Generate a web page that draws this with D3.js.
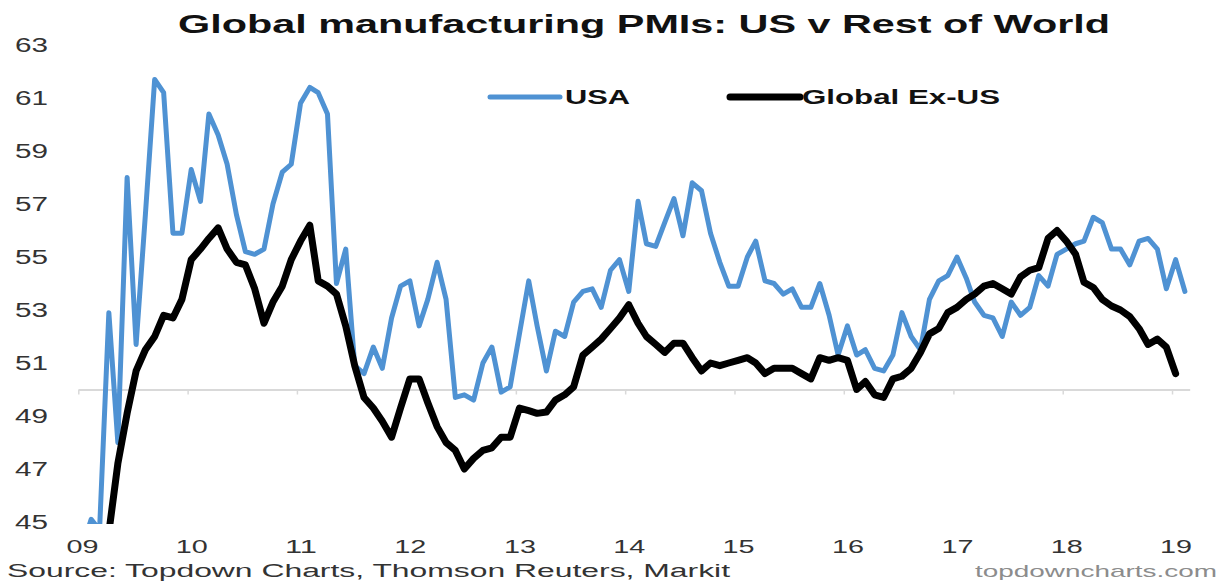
<!DOCTYPE html>
<html>
<head>
<meta charset="utf-8">
<script src="https://cdn.jsdelivr.net/npm/d3@7"></script>
<style>
  body { margin: 0; background: #fff; }
  svg { display: block; }
</style>
</head>
<body>
<div id="chart"></div>
<script>
// monthly readings, Jan 2009 onwards
const usaPmi = [
  44.0, 45.1, 44.7, 52.9, 48.0, 58.0, 51.7, 56.6, 61.7, 61.2, 55.9, 55.9, // 2009
  58.3, 57.1, 60.4, 59.6, 58.5, 56.6, 55.2, 55.1, 55.3, 57.0, 58.2, 58.5, // 2010
  60.8, 61.4, 61.2, 60.4, 54.0, 55.3, 50.9, 50.6, 51.6, 50.8, 52.7, 53.9, // 2011
  54.1, 52.4, 53.4, 54.8, 53.4, 49.7, 49.8, 49.6, 51.0, 51.6, 49.9, 50.1, // 2012
  52.1, 54.1, 52.4, 50.7, 52.2, 52.0, 53.3, 53.7, 53.8, 53.1, 54.5, 54.9, // 2013
  53.7, 57.1, 55.5, 55.4, 56.3, 57.2, 55.8, 57.8, 57.5, 55.9, 54.8, 53.9, // 2014
  53.9, 55.0, 55.6, 54.1, 54.0, 53.6, 53.8, 53.1, 53.1, 54.0, 52.8, 51.3, // 2015
  52.4, 51.3, 51.5, 50.8, 50.7, 51.3, 52.9, 52.0, 51.5, 53.4, 54.1, 54.3, // 2016
  55.0, 54.2, 53.3, 52.8, 52.7, 52.0, 53.3, 52.8, 53.1, 54.3, 53.9, 55.1, // 2017
  55.3, 55.5, 55.6, 56.5, 56.3, 55.3, 55.3, 54.7, 55.6, 55.7, 55.3, 53.8, // 2018
  54.9, 53.7                                                              // 2019
];

const globalExUsPmi = [
  36.5, 38.5, 41.5, 44.6, 47.2, 49.1, 50.7, 51.5, 52.0, 52.8, 52.7, 53.4, // 2009
  54.9, 55.3, 55.7, 56.1, 55.3, 54.8, 54.7, 53.8, 52.5, 53.3, 53.9, 54.9, // 2010
  55.6, 56.2, 54.1, 53.9, 53.6, 52.4, 50.9, 49.7, 49.3, 48.8, 48.2, 49.3, // 2011
  50.4, 50.4, 49.5, 48.6, 48.0, 47.7, 47.0, 47.4, 47.7, 47.8, 48.2, 48.2, // 2012
  49.3, 49.2, 49.1, 49.15, 49.6, 49.8, 50.1, 51.3, 51.6, 51.9, 52.3, 52.7, // 2013
  53.2, 52.5, 52.0, 51.7, 51.4, 51.75, 51.75, 51.2, 50.7, 51.0, 50.9, 51.0, // 2014
  51.1, 51.2, 51.0, 50.6, 50.8, 50.8, 50.8, 50.6, 50.4, 51.2, 51.1, 51.2, // 2015
  51.1, 50.0, 50.3, 49.8, 49.7, 50.4, 50.5, 50.8, 51.4, 52.1, 52.3, 52.9, // 2016
  53.1, 53.4, 53.6, 53.9, 54.0, 53.8, 53.6, 54.25, 54.5, 54.6, 55.7, 56.0, // 2017
  55.6, 55.1, 54.05, 53.85, 53.4, 53.15, 53.0, 52.75, 52.3, 51.7, 51.9, 51.6, // 2018
  50.6                                                                    // 2019
];

const yearLabels = ["09", "10", "11", "12", "13", "14", "15", "16", "17", "18", "19"];
const yTicks = [45, 47, 49, 51, 53, 55, 57, 59, 61, 63];
const seriesNames = ["USA", "Global Ex-US"];

const W = 1226, H = 581;
const blue = "#4f92d3";
const font = "'Liberation Sans', Arial, sans-serif";

const svg = d3.select("#chart").append("svg")
  .attr("width", W)
  .attr("height", H);

const x = d3.scaleUtc()
  .domain([new Date(Date.UTC(2009, 0, 1)), new Date(Date.UTC(2019, 2, 1))])
  .range([78.3, 1189.7]);

const y = d3.scaleLinear()
  .domain([45, 63])
  .range([522, 45]);

// point sits ~12 days into its month
const monthDate = i => new Date(Date.UTC(2009, i, 13));

const usaData = usaPmi.map((v, i) => ({ date: monthDate(i), value: v }));
const exUsData = globalExUsPmi.map((v, i) => ({ date: monthDate(i), value: v }));

// title
svg.append("text")
  .attr("x", 178)
  .attr("y", 33)
  .attr("textLength", 932)
  .attr("lengthAdjust", "spacingAndGlyphs")
  .style("font-family", font)
  .style("font-size", "25px")
  .style("font-weight", "bold")
  .attr("fill", "#111")
  .text("Global manufacturing PMIs: US v Rest of World");

// 50 line with year ticks
const xAxis = d3.axisBottom(x)
  .ticks(d3.utcYear.every(1))
  .tickSize(5)
  .tickSizeOuter(0)
  .tickFormat("");

const gx = svg.append("g")
  .attr("transform", "translate(0," + y(50) + ")")
  .call(xAxis);
gx.select(".domain").attr("stroke", "#d9d9d9").attr("stroke-width", 2);
gx.selectAll(".tick line").attr("stroke", "#d9d9d9").attr("stroke-width", 1.5);

// year labels, low position
const labelAxis = d3.axisBottom(x)
  .tickValues(yearLabels.map((d, k) => monthDate(12 * k)))
  .tickSize(0)
  .tickPadding(0)
  .tickFormat((d, k) => yearLabels[k]);

const gl = svg.append("g")
  .attr("transform", "translate(0,539.5)")
  .call(labelAxis);
gl.select(".domain").remove();
gl.selectAll("text")
  .attr("textLength", 32)
  .attr("lengthAdjust", "spacingAndGlyphs")
  .attr("fill", "#333")
  .style("font-family", font)
  .style("font-size", "19px");

// y labels
const yAxis = d3.axisLeft(y)
  .tickValues(yTicks)
  .tickSize(0)
  .tickPadding(0);

const gy = svg.append("g")
  .attr("transform", "translate(48,0)")
  .call(yAxis);
gy.select(".domain").remove();
gy.selectAll("text")
  .attr("textLength", 33)
  .attr("lengthAdjust", "spacingAndGlyphs")
  .attr("fill", "#333")
  .style("font-family", font)
  .style("font-size", "20px");

// plot clip
svg.append("clipPath")
  .attr("id", "plotClip")
  .append("rect")
  .attr("x", 60)
  .attr("y", 38)
  .attr("width", 1150)
  .attr("height", 486);

const line = d3.line()
  .x(d => x(d.date))
  .y(d => y(d.value));

const plot = svg.append("g").attr("clip-path", "url(#plotClip)");

plot.append("path")
  .datum(usaData)
  .attr("fill", "none")
  .attr("stroke", blue)
  .attr("stroke-width", 5)
  .attr("stroke-linejoin", "round")
  .attr("stroke-linecap", "round")
  .attr("d", line);

plot.append("path")
  .datum(exUsData)
  .attr("fill", "none")
  .attr("stroke", "#000")
  .attr("stroke-width", 7)
  .attr("stroke-linejoin", "round")
  .attr("stroke-linecap", "round")
  .attr("d", line);

// legend
const legend = svg.append("g");
legend.append("line")
  .attr("x1", 490).attr("x2", 560)
  .attr("y1", 97).attr("y2", 97)
  .attr("stroke", blue)
  .attr("stroke-width", 5)
  .attr("stroke-linecap", "round");
legend.append("text")
  .attr("x", 565)
  .attr("y", 104)
  .attr("textLength", 65)
  .attr("lengthAdjust", "spacingAndGlyphs")
  .style("font-family", font)
  .style("font-size", "21px")
  .style("font-weight", "bold")
  .attr("fill", "#111")
  .text(seriesNames[0]);

legend.append("line")
  .attr("x1", 730).attr("x2", 800)
  .attr("y1", 97).attr("y2", 97)
  .attr("stroke", "#000")
  .attr("stroke-width", 7)
  .attr("stroke-linecap", "round");
legend.append("text")
  .attr("x", 802)
  .attr("y", 104)
  .attr("textLength", 198)
  .attr("lengthAdjust", "spacingAndGlyphs")
  .style("font-family", font)
  .style("font-size", "21px")
  .style("font-weight", "bold")
  .attr("fill", "#111")
  .text(seriesNames[1]);

// footer
svg.append("text")
  .attr("x", 7)
  .attr("y", 577)
  .attr("textLength", 723)
  .attr("lengthAdjust", "spacingAndGlyphs")
  .style("font-family", font)
  .style("font-size", "18px")
  .attr("fill", "#333")
  .text("Source: Topdown Charts, Thomson Reuters, Markit");

svg.append("text")
  .attr("x", 975)
  .attr("y", 577)
  .attr("textLength", 242)
  .attr("lengthAdjust", "spacingAndGlyphs")
  .style("font-family", font)
  .style("font-size", "17px")
  .attr("fill", "#8c8c8c")
  .text("topdowncharts.com");
</script>
</body>
</html>
